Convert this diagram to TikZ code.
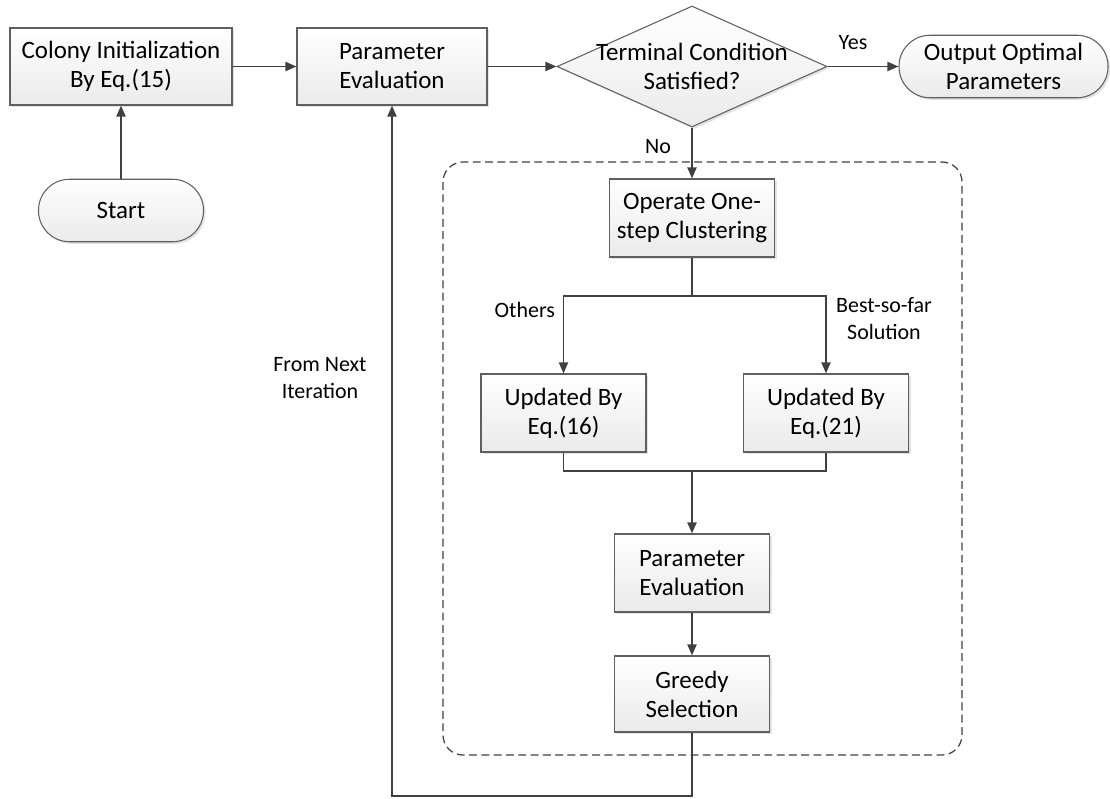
\documentclass[tikz,border=0pt]{standalone}
\usepackage{fontspec}
\setmainfont{Carlito}
\usepackage{tikz}
\usetikzlibrary{arrows.meta,positioning,shapes.geometric,shadows}
\definecolor{linegray}{RGB}{64,64,64}
\definecolor{boxedge}{RGB}{95,95,95}
\definecolor{boxfill}{RGB}{234,234,234}

\begin{document}
\begin{tikzpicture}[
    proc/.style={draw=boxedge, line width=0.6pt, top color=white, bottom color=boxfill,
      drop shadow={opacity=0.22, shadow xshift=1.2pt, shadow yshift=-1.2pt},
      minimum width=3.3cm, minimum height=1.56cm, align=center, inner sep=2pt,
      font=\fontsize{14.2}{16.5}\selectfont},
    term/.style={proc, rounded corners=0.62cm, minimum height=1.25cm},
    decision/.style={proc, diamond, aspect=2.23, minimum width=5.4cm, minimum height=2.42cm, inner sep=-9pt},
    flow/.style={draw=linegray, line width=1.1pt, -{Triangle[length=2.2mm,width=1.8mm]}},
    link/.style={draw=linegray, line width=1.1pt},
    lbl/.style={font=\fontsize{12.5}{15}\selectfont, align=center, inner sep=1pt}
]
    \useasboundingbox (0,0) rectangle (22.2,-15.96);

    % Loop body frame
    \draw[linegray, line width=0.7pt, dash pattern=on 4.5pt off 2.5pt, rounded corners=0.4cm]
        (8.86,-3.24) rectangle (19.24,-15.1);

    % Top row
    \node[proc, minimum width=4.44cm, minimum height=1.54cm] (colony) at (2.42,-1.33) {Colony Initialization\\By Eq.(15)};
    \node[proc, minimum width=3.8cm, minimum height=1.54cm] (eval1) at (7.84,-1.33) {Parameter\\Evaluation};
    \node[decision] (cond) at (13.84,-1.33) {Terminal Condition\\Satisfied?};
    \node[term, minimum width=4.18cm] (output) at (20.07,-1.33) {Output Optimal\\Parameters};
    \node[term, minimum width=3.3cm] (start) at (2.42,-4.21) {Start};

    % Inside the loop
    \node[proc] (opstep) at (13.84,-4.36) {Operate One-\\step Clustering};
    \node[proc] (upd16) at (11.27,-8.26) {Updated By\\Eq.(16)};
    \node[proc] (upd21) at (16.52,-8.26) {Updated By\\Eq.(21)};
    \node[proc, minimum width=3.1cm] (eval2) at (13.84,-11.46) {Parameter\\Evaluation};
    \node[proc, minimum width=3.1cm, minimum height=1.52cm] (greedy) at (13.84,-13.88) {Greedy\\Selection};

    % Labels
    \node[lbl] (yes) at (17.06,-0.86) {Yes};
    \node[lbl] (no) at (13.16,-2.94) {No};
    \node[lbl, anchor=east] (others) at (11.14,-6.2) {Others};
    \node[lbl] (best) at (17.68,-6.37) {Best-so-far\\Solution};
    \node[lbl] (nextit) at (6.4,-7.56) {From Next\\Iteration};

    \coordinate (split) at (13.84,-5.92);
    \coordinate (merge) at (13.84,-9.42);
    \coordinate (back) at (13.84,-15.92);

    % Connectors
    \draw[flow] (start) -- (colony);
    \draw[flow] (colony) -- (eval1);
    \draw[flow] (eval1) -- (cond);
    \draw[flow] (cond) -- (output);
    \draw[flow] (cond) -- (opstep);
    \draw[link] (opstep) -- (split);
    \draw[flow] (split) -| (upd16.north);
    \draw[flow] (split) -| (upd21.north);
    \draw[link] (upd16.south) |- (merge);
    \draw[link] (upd21.south) |- (merge);
    \draw[flow] (merge) -- (eval2);
    \draw[flow] (eval2) -- (greedy);
    \draw[flow] (greedy.south) -- (back) -| (eval1.south);
\end{tikzpicture}
\end{document}
